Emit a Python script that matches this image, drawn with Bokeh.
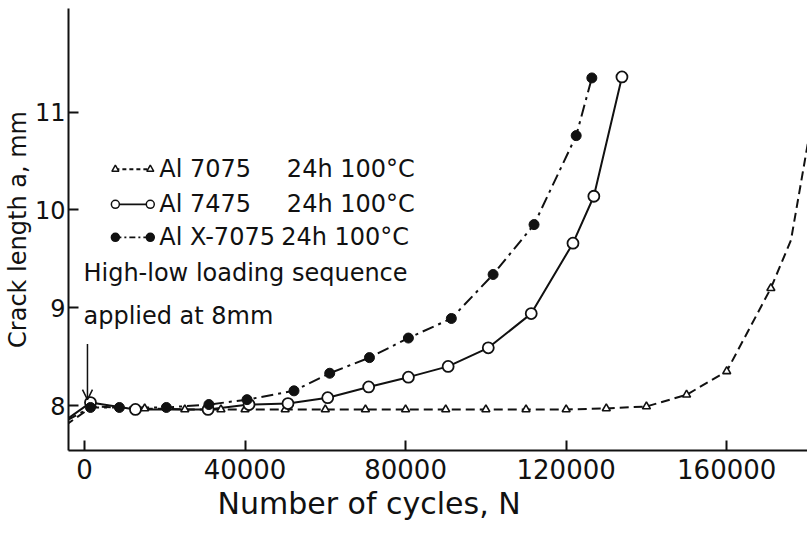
from bokeh.plotting import figure
from bokeh.models import Range1d, FixedTicker, Label, Arrow, OpenHead, Title
from bokeh.embed import file_html
from bokeh.resources import INLINE

# ---------------- data ----------------
# Al 7075 24h 100C  (open triangles, dashed)
n_7075 = [15000, 25000, 34000, 40000, 50000, 60000, 70000, 80000, 90000,
          100000, 110000, 120000, 130000, 140000, 150000, 160000, 171000]
a_7075 = [7.97, 7.96, 7.96, 7.96, 7.96, 7.96, 7.96, 7.96, 7.96,
          7.96, 7.96, 7.96, 7.97, 7.99, 8.11, 8.35, 9.20]
lead_n_7075 = [-4700, 2000]
lead_a_7075 = [7.80, 7.99]
tail_n_7075 = [176000, 180500]
tail_a_7075 = [9.69, 10.75]

# Al 7475 24h 100C  (open circles, solid)
n_7475 = [1500, 12700, 30800, 41000, 50700, 60600, 70800, 80700, 90600,
          100600, 111300, 121700, 126900, 133900]
a_7475 = [8.03, 7.96, 7.96, 8.01, 8.02, 8.08, 8.19, 8.29, 8.40,
          8.59, 8.94, 9.66, 10.14, 11.36]
lead_n_7475 = [-4700]
lead_a_7475 = [7.85]

# Al X-7075 24h 100C  (filled circles, dash-dot)
n_x7075 = [1500, 8700, 20400, 31000, 40500, 52200, 61100, 71000, 80700,
           91400, 101800, 112000, 122500, 126400]
a_x7075 = [7.98, 7.98, 7.98, 8.01, 8.06, 8.15, 8.33, 8.49, 8.69,
           8.89, 9.34, 9.85, 10.76, 11.35]
lead_n_x7075 = [-4700]
lead_a_x7075 = [7.84]

x_ticks = [0, 40000, 80000, 120000, 160000]
x_tick_labels = ["0", "40000", "80000", "120000", "160000"]
y_ticks = [8, 9, 10, 11]
y_tick_labels = ["8", "9", "10", "11"]

legend_names = ["Al 7075", "Al 7475", "Al X-7075"]
legend_treat = ["24h 100°C", "24h 100°C", "24h 100°C"]

FONT = "DejaVu Sans"
INK = "#111111"

# ---------------- figure ----------------
p = figure(width=807, height=533, output_backend="svg", toolbar_location=None,
           x_range=Range1d(-3975, 180124), y_range=Range1d(7.54, 12.06),
           min_border_left=66, min_border_right=0, min_border_top=8,
           min_border_bottom=83)
p.outline_line_color = None
p.xgrid.visible = False
p.ygrid.visible = False
p.background_fill_color = "white"
p.border_fill_color = "white"

for ax in (p.xaxis[0], p.yaxis[0]):
    ax.axis_line_width = 2
    ax.axis_line_color = INK
    ax.major_tick_line_width = 2
    ax.major_tick_line_color = INK
    ax.major_tick_in = 10
    ax.major_tick_out = 0
    ax.minor_tick_line_color = None
    ax.major_label_text_font = FONT
    ax.major_label_text_color = INK

p.xaxis.ticker = FixedTicker(ticks=x_ticks)
p.xaxis.major_label_overrides = dict(zip(x_ticks, x_tick_labels))
p.xaxis.major_label_standoff = 8
p.xaxis.major_label_text_font_size = "26px"

p.yaxis.ticker = FixedTicker(ticks=y_ticks)
p.yaxis.major_label_overrides = dict(zip(y_ticks, y_tick_labels))
p.yaxis.major_label_standoff = 3
p.yaxis.major_label_text_font_size = "24px"
p.yaxis.axis_label = "Crack length a, mm"
p.yaxis.axis_label_text_font = FONT
p.yaxis.axis_label_text_font_size = "24px"
p.yaxis.axis_label_text_font_style = "normal"
p.yaxis.axis_label_text_color = INK
p.yaxis.axis_label_standoff = 0

# x axis title, placed left of centre like the original
p.add_layout(Title(text="Number of cycles, N", align="left", offset=149,
                   text_font=FONT, text_font_size="30px", text_font_style="normal",
                   text_color=INK, standoff=4), "below")

# ---------------- curves ----------------
p.line(lead_n_7075 + n_7075 + tail_n_7075, lead_a_7075 + a_7075 + tail_a_7075,
       line_color=INK, line_width=2, line_dash="9 5")
p.line(lead_n_7475 + n_7475, lead_a_7475 + a_7475,
       line_color=INK, line_width=2)
p.line(lead_n_x7075 + n_x7075, lead_a_x7075 + a_x7075,
       line_color=INK, line_width=2, line_dash="12 5 3 5")

p.scatter(n_7075, a_7075, marker="triangle", size=8, fill_color="white",
          line_color=INK, line_width=1.6)
p.scatter(n_7475, a_7475, marker="circle", size=11, fill_color="white",
          line_color=INK, line_width=1.8)
p.scatter(n_x7075, a_x7075, marker="circle", size=10, fill_color=INK,
          line_color=INK, line_width=1)

# ---------------- legend (hand drawn) ----------------
leg_x0, leg_x1 = 7700, 16400
leg_rows = [10.416, 10.057, 9.72]
dashes = ["4 3", "solid", "6 3 2 3"]
markers = [("triangle", "white", 7), ("circle", "white", 8), ("circle", INK, 8)]
for i in range(3):
    y = leg_rows[i]
    p.line([leg_x0, leg_x1], [y, y], line_color=INK, line_width=1.8,
           line_dash=dashes[i])
    m, fc, sz = markers[i]
    p.scatter([leg_x0, leg_x1], [y, y], marker=m, size=sz, fill_color=fc,
              line_color=INK, line_width=1.5)
    p.add_layout(Label(x=18630, y=y, text=legend_names[i], text_font=FONT,
                       text_font_size="24px", text_color=INK,
                       text_baseline="middle", text_align="left"))
    p.add_layout(Label(x=(50425 if i < 2 else 49000), y=y, text=legend_treat[i],
                       text_font=FONT, text_font_size="24px", text_color=INK,
                       text_baseline="middle", text_align="left"))

# ---------------- annotation ----------------
p.add_layout(Label(x=-250, y=9.36, text="High-low loading sequence", text_font=FONT,
                   text_font_size="24px", text_color=INK, text_baseline="alphabetic"))
p.add_layout(Label(x=-250, y=8.92, text="applied at 8mm", text_font=FONT,
                   text_font_size="24px", text_color=INK, text_baseline="alphabetic"))
p.add_layout(Arrow(x_start=750, y_start=8.63, x_end=750, y_end=8.06,
                   line_color=INK, line_width=1.5,
                   end=OpenHead(size=10, line_color=INK, line_width=1.5)))

open("out.html", "w").write(file_html(p, INLINE))
